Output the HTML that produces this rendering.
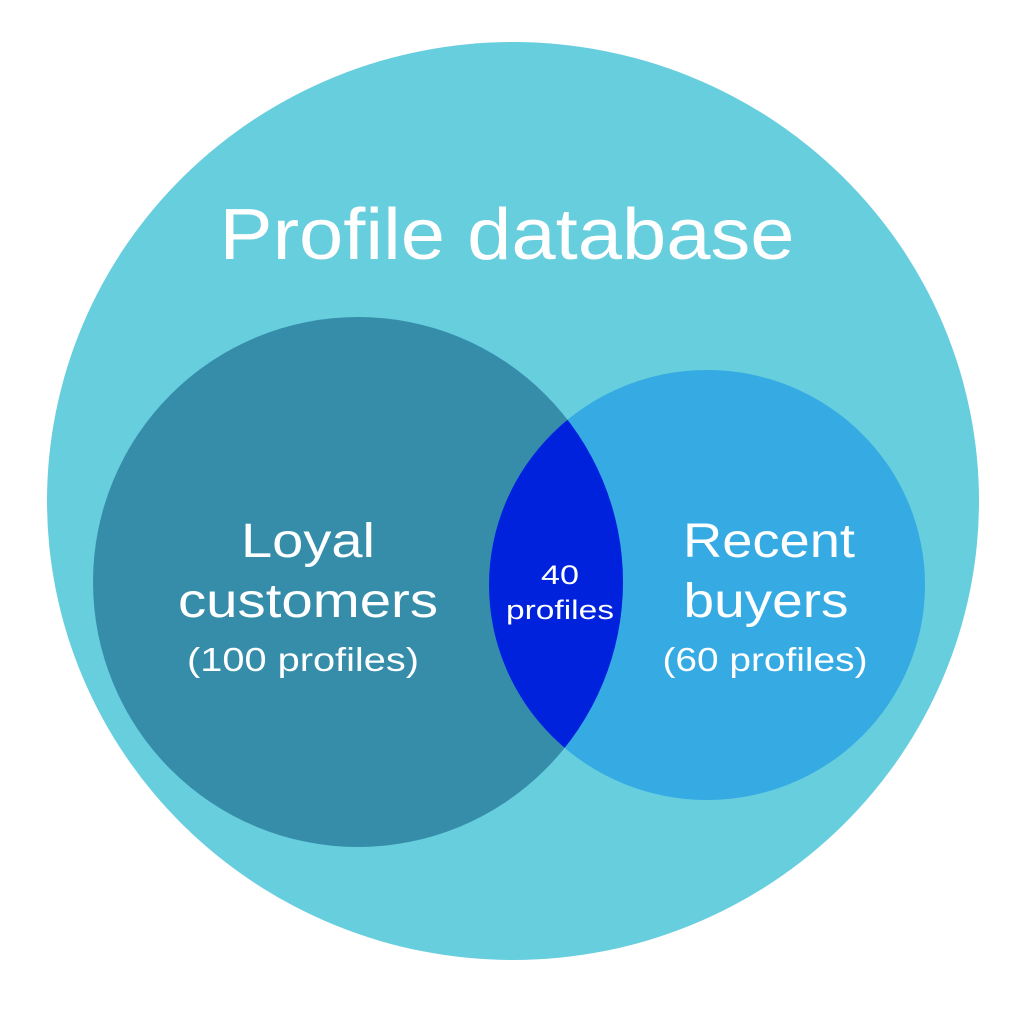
<!DOCTYPE html>
<html><head><style>html,body{margin:0;padding:0;background:#fff;}svg{display:block}</style></head>
<body>
<svg width="1024" height="1024" viewBox="0 0 1024 1024" xmlns="http://www.w3.org/2000/svg" font-family="Liberation Sans, sans-serif" fill="#fff">
<defs><clipPath id="lc"><circle cx="358" cy="582" r="265"/></clipPath></defs>
<rect width="1024" height="1024" fill="#fff"/>
<ellipse cx="513" cy="501" rx="466" ry="459" fill="#67CEDE"/>
<circle cx="358" cy="582" r="265" fill="#358DAA"/>
<ellipse cx="707" cy="585" rx="218" ry="215" fill="#35AAE3"/>
<ellipse cx="707" cy="585" rx="218" ry="215" fill="#0022DD" clip-path="url(#lc)"/>
<g fill="#fff" text-anchor="middle" lengthAdjust="spacingAndGlyphs">
<text x="507" y="259" font-size="72" textLength="575" lengthAdjust="spacingAndGlyphs">Profile database</text>
<text x="308" y="557" font-size="48" textLength="134" lengthAdjust="spacingAndGlyphs">Loyal</text>
<text x="308" y="617" font-size="48" textLength="260" lengthAdjust="spacingAndGlyphs">customers</text>
<text x="303" y="671" font-size="33" textLength="232" lengthAdjust="spacingAndGlyphs">(100 profiles)</text>
<text x="560" y="584" font-size="27" textLength="38" lengthAdjust="spacingAndGlyphs">40</text>
<text x="560" y="619" font-size="27" textLength="108" lengthAdjust="spacingAndGlyphs">profiles</text>
<text x="769" y="557" font-size="48" textLength="172" lengthAdjust="spacingAndGlyphs">Recent</text>
<text x="766" y="617" font-size="48" textLength="165" lengthAdjust="spacingAndGlyphs">buyers</text>
<text x="765" y="671" font-size="33" textLength="205" lengthAdjust="spacingAndGlyphs">(60 profiles)</text>
</g>
</svg>
</body></html>
